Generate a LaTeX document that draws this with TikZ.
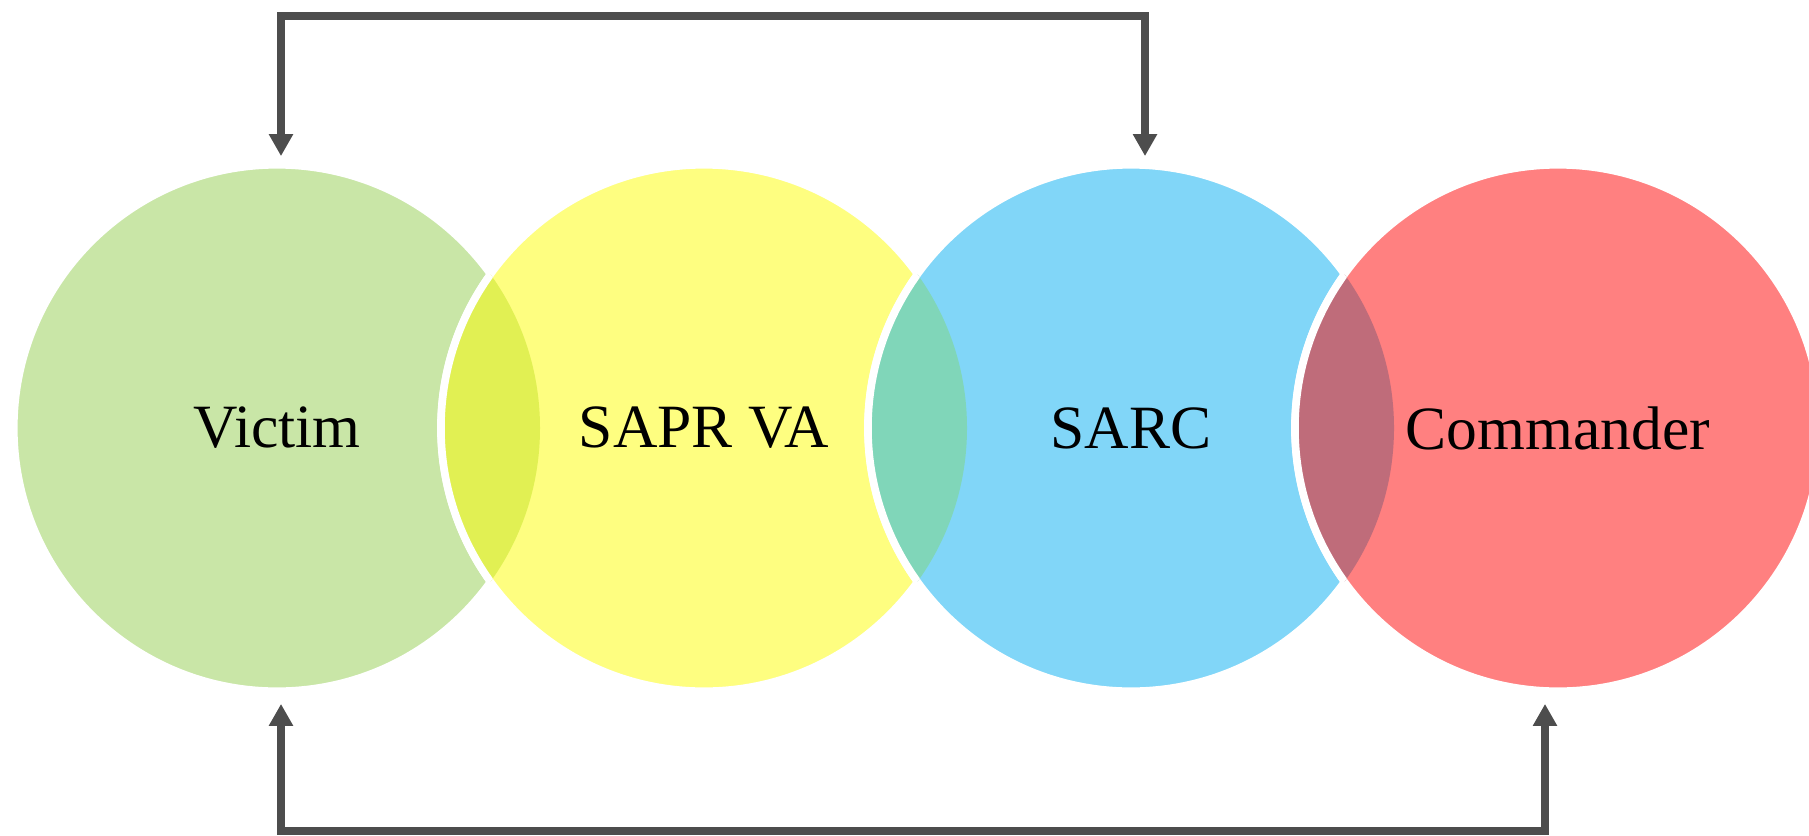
\documentclass[tikz,border=0pt]{standalone}
\usepackage{fontspec}
\setmainfont{Liberation Serif}
\usetikzlibrary{arrows.meta, calc}
\definecolor{cgreen}{RGB}{201,230,167}
\definecolor{cyellow}{RGB}{254,254,128}
\definecolor{cblue}{RGB}{129,214,248}
\definecolor{cred}{RGB}{255,128,128}
\definecolor{clensa}{RGB}{225,240,83}
\definecolor{clensb}{RGB}{128,214,185}
\definecolor{clensc}{RGB}{191,108,122}
\definecolor{cgray}{RGB}{77,77,77}

\begin{document}
\begin{tikzpicture}[x=0.01cm, y=0.01cm, font=\fontsize{17.5}{20}\selectfont,
  bubble/.style={circle, minimum size=5.26cm, inner sep=0pt, draw=white, line width=0.075cm},
  link/.style={draw=cgray, line width=0.08cm,
    {Triangle[width=0.23cm,length=0.22cm]}-{Triangle[width=0.23cm,length=0.22cm]}}]
  \useasboundingbox (0,0) rectangle (1809,835);
  % circles
  \foreach \name/\x/\col/\txt in {
    victim/277/cgreen/Victim,
    saprva/704/cyellow/SAPR VA,
    sarc/1131/cblue/SARC,
    commander/1558/cred/Commander
  }{
    \node[bubble, fill=\col] (\name) at (\x,407) {\txt};
  }
  % overlaps
  \foreach \a/\b/\col in {victim/saprva/clensa, saprva/sarc/clensb, sarc/commander/clensc}{
    \begin{scope}
      \clip (\a.center) circle[radius=263];
      \fill[\col] (\b.center) circle[radius=263];
      \draw[white, line width=0.075cm] (\b.center) circle[radius=263];
    \end{scope}
  }
  % links
  \coordinate (topbar) at (700,819);
  \coordinate (botbar) at (900,4);
  \draw[link] ([xshift=0.04cm,yshift=0.05cm]victim.north) |- (topbar)
    -| ([xshift=0.14cm,yshift=0.05cm]sarc.north);
  \draw[link] ([xshift=0.04cm,yshift=-0.09cm]victim.south) |- (botbar)
    -| ([xshift=-0.13cm,yshift=-0.09cm]commander.south);
\end{tikzpicture}
\end{document}
